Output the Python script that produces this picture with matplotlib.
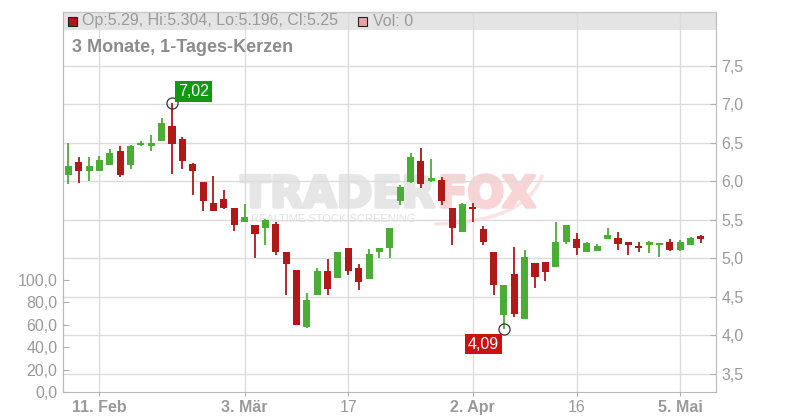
import matplotlib
matplotlib.use("Agg")
import matplotlib.pyplot as plt
from matplotlib.patches import Rectangle, PathPatch
from matplotlib.path import Path
import matplotlib.patheffects as pe
import pandas as pd

plt.rcParams['font.family'] = ['Liberation Sans', 'DejaVu Sans']

# ---------------- data ----------------
holidays = ['2025-04-18', '2025-04-21', '2025-05-01']
dates = [d for d in pd.bdate_range('2025-02-06', '2025-05-07') if d.strftime('%Y-%m-%d') not in holidays]

opens = [6.09, 6.25, 6.13, 6.14, 6.22, 6.39, 6.22, 6.47, 6.46, 6.52,
         6.72, 6.55, 6.23, 5.99, 5.72, 5.77, 5.66, 5.48, 5.44, 5.40,
         5.45, 5.08, 4.85, 4.11, 4.53, 4.84, 4.75, 5.14, 4.88, 4.74,
         5.08, 5.14, 5.75, 5.99, 6.27, 6.01, 6.02, 5.66, 5.34, 5.67,
         5.38, 5.08, 4.27, 4.80, 4.21, 4.94, 4.95, 4.89, 5.21, 5.25,
         5.09, 5.10, 5.25, 5.27, 5.21, 5.16, 5.17, 5.17, 5.21, 5.11,
         5.18, 5.29]
highs = [6.50, 6.32, 6.32, 6.33, 6.42, 6.46, 6.47, 6.53, 6.60, 6.82,
         7.02, 6.58, 6.24, 5.99, 6.07, 5.89, 5.66, 5.71, 5.44, 5.51,
         5.47, 5.08, 4.85, 4.55, 4.88, 4.99, 5.08, 5.14, 4.93, 5.12,
         5.14, 5.40, 5.96, 6.37, 6.44, 6.29, 6.06, 5.66, 5.72, 5.72,
         5.42, 5.08, 4.66, 5.15, 5.11, 4.94, 4.96, 5.47, 5.43, 5.33,
         5.22, 5.19, 5.39, 5.35, 5.21, 5.21, 5.23, 5.19, 5.25, 5.24,
         5.28, 5.304]
lows = [5.97, 5.98, 6.01, 6.13, 6.22, 6.06, 6.16, 6.46, 6.39, 6.52,
        6.10, 6.16, 5.82, 5.62, 5.62, 5.64, 5.36, 5.48, 5.00, 5.17,
        5.05, 4.52, 4.14, 4.10, 4.53, 4.53, 4.75, 4.78, 4.59, 4.74,
        5.00, 5.00, 5.69, 5.98, 5.91, 5.99, 5.70, 5.18, 5.34, 5.48,
        5.17, 4.52, 4.09, 4.24, 4.21, 4.62, 4.71, 4.89, 5.19, 5.05,
        5.09, 5.10, 5.25, 5.11, 5.05, 5.09, 5.07, 5.02, 5.10, 5.10,
        5.17, 5.196]
closes = [6.20, 6.13, 6.20, 6.28, 6.37, 6.09, 6.46, 6.50, 6.50, 6.76,
          6.49, 6.27, 6.13, 5.74, 5.62, 5.65, 5.44, 5.54, 5.32, 5.50,
          5.08, 4.93, 4.14, 4.46, 4.84, 4.61, 5.08, 4.84, 4.70, 5.06,
          5.14, 5.40, 5.93, 6.32, 5.97, 6.05, 5.74, 5.39, 5.71, 5.64,
          5.22, 4.65, 4.66, 4.28, 5.02, 4.76, 4.83, 5.21, 5.43, 5.13,
          5.20, 5.16, 5.31, 5.19, 5.18, 5.13, 5.21, 5.19, 5.11, 5.21,
          5.27, 5.25]
volumes = [0] * len(closes)

price_ticks = [3.5, 4.0, 4.5, 5.0, 5.5, 6.0, 6.5, 7.0, 7.5]
vol_ticks = [0, 20, 40, 60, 80, 100]
xtick_dates = ['2025-02-11', '2025-03-03', '2025-03-17', '2025-04-02', '2025-04-16', '2025-05-05']
xtick_labels = ['11. Feb', '3. Mär', '17', '2. Apr', '16', '5. Mai']
xtick_bold = [True, True, False, True, False, True]

max_label = '7,02'
min_label = '4,09'

# ---------------- figure ----------------
W, H = 800, 420
fig = plt.figure(figsize=(W / 100, H / 100), dpi=100)
L, R, T, B = 63, 716, 12, 392
ax = fig.add_axes([L / W, (H - B) / H, (R - L) / W, (B - T) / H])

GREEN = '#4aad34'
RED = '#b11818'
GRID = '#dcdcdc'
TXT = '#9a9a9a'

n = len(closes)
xs = list(range(n))
ax.set_xlim(-0.51, 62.45)
ax.set_ylim(3.266, 8.201)
ax.set_axisbelow(True)

cols = [GREEN if c >= o else RED for o, c in zip(opens, closes)]
ax.vlines(xs, lows, highs, colors=cols, lw=1.3, zorder=2)
bottoms = [min(o, c) for o, c in zip(opens, closes)]
heights = [max(abs(c - o), 0.03) for o, c in zip(opens, closes)]
ax.bar(xs, heights, bottom=bottoms, width=0.68, color=cols, zorder=3, linewidth=0)

# volume axis (left)
ax2 = ax.twinx()
ax2.set_zorder(ax.get_zorder() - 1)
ax.patch.set_visible(False)
ax2.set_ylim(0, 337.8)
ax2.bar(xs, volumes, width=0.68, color='#e8a0a8')
ax2.set_yticks(vol_ticks)
ax2.set_yticklabels([f'{v:.1f}'.replace('.', ',') for v in vol_ticks])
ax2.yaxis.tick_left()
ax2.yaxis.set_label_position('left')
ax2.tick_params(axis='y', direction='in', length=4, color='#b0b0b0', labelcolor=TXT,
                labelsize=11.5, pad=4)
for side in ['top', 'right', 'bottom']:
    ax2.spines[side].set_visible(False)
ax2.spines['left'].set_color('#b8b8b8')

# price axis (right) + grid
date_strs = [d.strftime('%Y-%m-%d') for d in dates]
xt = [date_strs.index(d) for d in xtick_dates]
ax.set_yticks(price_ticks)
ax.set_yticklabels([f'{v:.1f}'.replace('.', ',') for v in price_ticks])
ax.set_xticks(xt)
ax.set_xticklabels(xtick_labels)
ax.grid(True, color=GRID, lw=1)
ax.yaxis.tick_right()
ax.yaxis.set_label_position('right')
ax.tick_params(axis='y', direction='in', length=4, color='#b0b0b0', labelcolor=TXT,
               labelsize=11.5, pad=4, left=False, labelleft=False, right=True, labelright=True)
ax.tick_params(axis='x', direction='out', length=3, color='#b0b0b0', labelcolor=TXT,
               labelsize=11.5, pad=3)
for lab, b in zip(ax.get_xticklabels(), xtick_bold):
    lab.set_fontweight('bold' if b else 'normal')
ax.spines['top'].set_visible(False)
for side in ['left', 'right', 'bottom']:
    ax.spines[side].set_color('#b8b8b8')

def axc(px, py):
    return ((px - L) / (R - L), (B - py) / (B - T))

# header band
x0, y0 = axc(L, 30)
ax.add_patch(Rectangle((0, y0), 1, 1 - y0, transform=ax.transAxes,
                       facecolor='#e4e4e4', edgecolor='none', zorder=0.4))
ax.plot([0, 1], [1, 1], transform=ax.transAxes, color='#c8c8c8', lw=1, zorder=5, clip_on=False)
sx, sy = axc(68, 26)
ax.add_patch(Rectangle((sx, sy), 9 / (R - L), 9 / (B - T), transform=ax.transAxes,
                       facecolor=RED, edgecolor='#222222', lw=0.8, zorder=5))
tx, ty = axc(82, 21)
ax.text(tx, ty, f'Op:{opens[-1]}, Hi:{highs[-1]}, Lo:{lows[-1]}, Cl:{closes[-1]}',
        transform=ax.transAxes, color=TXT, fontsize=11.5, va='center', ha='left', zorder=6)
sx, sy = axc(358, 26)
ax.add_patch(Rectangle((sx, sy), 9 / (R - L), 9 / (B - T), transform=ax.transAxes,
                       facecolor='#e8a0a8', edgecolor='#222222', lw=0.8, zorder=5))
tx, ty = axc(373, 21)
ax.text(tx, ty, f'Vol: {volumes[-1]}', transform=ax.transAxes, color=TXT, fontsize=11.5,
        va='center', ha='left', zorder=6)

# title
tx, ty = axc(72, 48)
ax.text(tx, ty, '3 Monate, 1-Tages-Kerzen', transform=ax.transAxes, color='#8c8c8c',
        fontsize=13, fontweight='bold', va='center', ha='left', zorder=6)

# watermark
WM_GREY = '#e6e6e6'
WM_PINK = '#f8d4d6'
tx, ty = axc(435, 207)
ax.text(tx, ty, 'TRADER', transform=ax.transAxes, color=WM_GREY, fontsize=31,
        fontweight='bold', family='DejaVu Sans', ha='right', va='baseline', zorder=0.3,
        path_effects=[pe.withStroke(linewidth=2.5, foreground=WM_GREY)])
ax.text(tx + 3 / (R - L), ty, 'FOX', transform=ax.transAxes, color=WM_PINK, fontsize=31,
        fontweight='bold', family='DejaVu Sans', ha='left', va='baseline', zorder=0.3,
        path_effects=[pe.withStroke(linewidth=2.5, foreground=WM_PINK)])
p0, p1, p2 = axc(436, 224), axc(525, 222), axc(542, 176)
ax.add_patch(PathPatch(Path([p0, p1, p2], [Path.MOVETO, Path.CURVE3, Path.CURVE3]),
                       transform=ax.transAxes, facecolor='none', edgecolor='#fbe3e4',
                       lw=2.5, zorder=0.25, capstyle='round'))
tx, ty = axc(251, 218.5)
ax.text(tx, ty, 'REALTIME STOCK SCREENING', transform=ax.transAxes, color='#e2e2e2',
        fontsize=8, ha='left', va='center', zorder=0.3)

# max / min markers
imax = highs.index(max(highs))
imin = lows.index(min(lows))
ax.plot([imax], [highs[imax]], 'o', ms=8, mfc='none', mec='#333333', mew=0.9, zorder=6)
ax.plot([imin], [lows[imin]], 'o', ms=8, mfc='none', mec='#333333', mew=0.9, zorder=6)
ax.annotate(max_label, xy=(imax, highs[imax]), xytext=(6, 4), textcoords='offset pixels',
            ha='left', va='bottom', color='white', fontsize=11.5, zorder=7,
            bbox=dict(boxstyle='square,pad=0.18', facecolor='#119911', edgecolor='none'))
ax.annotate(min_label, xy=(imin, lows[imin]), xytext=(-5, -8), textcoords='offset pixels',
            ha='right', va='top', color='white', fontsize=11.5, zorder=7,
            bbox=dict(boxstyle='square,pad=0.18', facecolor='#cc1111', edgecolor='none'))

fig.savefig('out.png', dpi=100)
